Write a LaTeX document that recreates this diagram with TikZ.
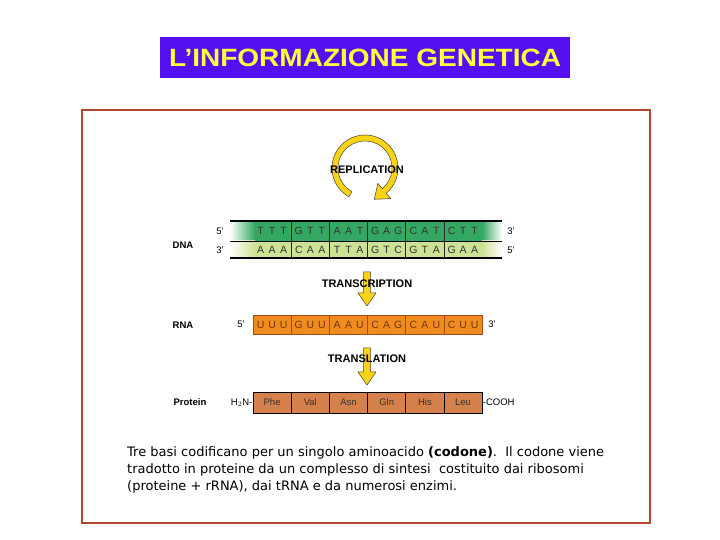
\documentclass[tikz,border=0pt]{standalone}
\usepackage{fontspec}
\setmainfont{Liberation Sans}
\newfontfamily\parafont{DejaVu Sans}
\definecolor{titleblue}{RGB}{84,16,240}
\definecolor{titleyellow}{RGB}{255,255,60}
\definecolor{framered}{RGB}{180,70,45}
\definecolor{dnagreen}{RGB}{52,168,98}
\definecolor{dnalight}{RGB}{206,226,150}
\definecolor{rnaorange}{RGB}{240,140,30}
\definecolor{rnaedge}{RGB}{160,75,20}
\definecolor{protfill}{RGB}{214,128,76}
\definecolor{arrowyellow}{RGB}{248,212,20}
\newcommand{\cdn}[3]{\makebox[11.5pt]{#1}\makebox[11.5pt]{#2}\makebox[11.5pt]{#3}}
\begin{document}
\begin{tikzpicture}[x=1pt,y=1pt,
  lab/.style={font=\fontsize{9.5}{10}\selectfont, inner sep=0},
  blab/.style={font=\bfseries\fontsize{9.5}{10}\selectfont, inner sep=0},
  proc/.style={font=\bfseries\fontsize{11}{12}\selectfont, inner sep=0},
  codontext/.style={font=\fontsize{10.5}{11}\selectfont, text=black!80, inner sep=0},
  yarrow/.style={fill=arrowyellow, draw=black!75, line width=0.5pt, line join=round},
  para/.style={font=\parafont\fontsize{13}{15}\selectfont, anchor=west, inner sep=0}
  ]
\useasboundingbox (0,0) rectangle (720,540);
% title
\node[fill=titleblue, minimum width=410, minimum height=41, inner sep=0] (title) at (365,482.5)
  {\scalebox{1.12}[1]{\color{titleyellow}\bfseries\fontsize{25}{27}\selectfont L’INFORMAZIONE GENETICA}};
% frame
\node[draw=framered, line width=2pt, minimum width=568, minimum height=413, inner sep=0] (frame) at (366,223.5) {};
% replication arrow
\begin{scope}[shift={(365,372)}]
  \draw[yarrow] (241:33) arc[start angle=241, end angle=-50, radius=33]
    -- (-50:40) -- (9.3,-31.3) -- (-50:20) -- (-50:27)
    arc[start angle=-50, end angle=241, radius=27] -- cycle;
\end{scope}
\node[proc] (repl) at (367,370) {REPLICATION};
% DNA
\shade[left color=white, right color=dnagreen] (230,299) rectangle (255,319);
\fill[dnagreen] (254.5,299) rectangle (482.5,319);
\shade[left color=dnagreen, right color=white] (482,299) rectangle (502,319);
\shade[left color=white, right color=dnalight] (230,282) rectangle (255,299);
\fill[dnalight] (254.5,282) rectangle (482.5,299);
\shade[left color=dnalight, right color=white] (482,282) rectangle (502,299);
\draw[line width=1.2pt] (230,319) -- (502,319);
\draw[line width=0.8pt] (230,299) -- (502,299);
\draw[line width=1.2pt] (230,282) -- (502,282);
\foreach \k in {1,...,5} {
  \draw[line width=0.8pt, black!85] ({253+38.2*\k},282) -- ({253+38.2*\k},319);
}
\foreach \c [count=\i from 0] in {{T}{T}{T},{G}{T}{T},{A}{A}{T},{G}{A}{G},{C}{A}{T},{C}{T}{T}} {
  \node[codontext] (top\i) at ({272.1+38.2*\i},309) {\expandafter\cdn\c};
}
\foreach \c [count=\i from 0] in {{A}{A}{A},{C}{A}{A},{T}{T}{A},{G}{T}{C},{G}{T}{A},{G}{A}{A}} {
  \node[codontext] (bot\i) at ({272.1+38.2*\i},290.5) {\expandafter\cdn\c};
}
\node[lab] (d5l) at (220,309) {5'};
\node[lab] (d3l) at (220,290) {3'};
\node[lab] (d3r) at (511,309) {3'};
\node[lab] (d5r) at (511,290) {5'};
\node[blab] (dna) at (183,295) {DNA};
% transcription
\draw[yarrow] (363.5,268) -- (370.5,268) -- (370.5,247) -- (376,247) -- (367,234) -- (358,247) -- (363.5,247) -- cycle;
\node[proc] (transc) at (367,256) {TRANSCRIPTION};
% RNA
\foreach \c [count=\i from 0] in {{U}{U}{U},{G}{U}{U},{A}{A}{U},{C}{A}{G},{C}{A}{U},{C}{U}{U}} {
  \node[draw=rnaedge, fill=rnaorange, line width=0.8pt, minimum width=38.2, minimum height=19, inner sep=0,
        font=\fontsize{10.5}{11}\selectfont, text=rnaedge!70!black] (rna\i) at ({272.1+38.2*\i},215.5) {\expandafter\cdn\c};
}
\node[lab] (r5) at (241,216) {5'};
\node[lab] (r3) at (492,216) {3'};
\node[blab] (rna) at (183,215) {RNA};
% translation
\draw[yarrow] (363.5,192) -- (370.5,192) -- (370.5,168) -- (376,168) -- (367,155) -- (358,168) -- (363.5,168) -- cycle;
\node[proc] (transl) at (367,181) {TRANSLATION};
% protein
\foreach \a [count=\i from 0] in {Phe,Val,Asn,Gln,His,Leu} {
  \node[draw=black, fill=protfill, line width=0.9pt, minimum width=38.2, minimum height=21, inner sep=0,
        font=\fontsize{9.5}{10}\selectfont, text=black!80] (aa\i) at ({272.1+38.2*\i},137.5) {\a};
}
\node[lab, anchor=east] (h2n) at (aa0.west) {H$_2$N-};
\node[lab, anchor=west] (cooh) at (aa5.east) {-COOH};
\node[blab] (prot) at (190,138) {Protein};
% paragraph
\node[para] (l1) at (127,87) {Tre basi codificano per un singolo aminoacido \textbf{(codone)}.\ \ Il codone viene};
\node[para] (l2) at (127,70) {tradotto in proteine da un complesso di sintesi\ \ costituito dai ribosomi};
\node[para] (l3) at (127,53) {(proteine + rRNA), dai tRNA e da numerosi enzimi.};
\end{tikzpicture}
\end{document}
